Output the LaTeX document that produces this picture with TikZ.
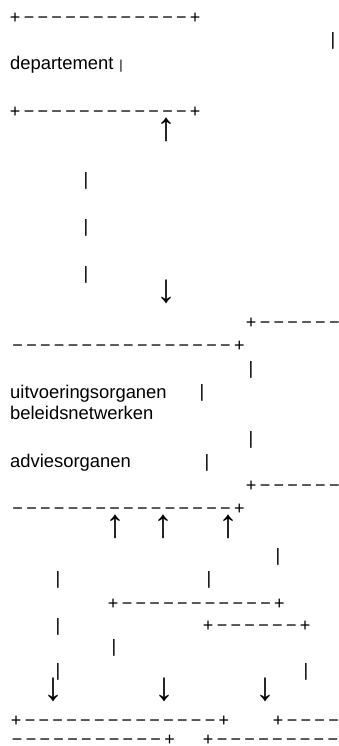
\documentclass[tikz,border=0pt]{standalone}
\usepackage{fontspec}
\setmainfont{Liberation Sans}
\newcommand\cellw{13.85pt}
\newcommand\pluscell{\makebox[\cellw]{+}}
\newcommand\minuscell{\makebox[\cellw]{−}}
\newcommand\mrun[1]{\foreach \k in {1,...,#1}{\minuscell}}
\begin{document}
\begin{tikzpicture}[x=1pt,y=-1pt,
  row/.style={inner sep=0pt, anchor=base west, font=\fontsize{18}{18}\selectfont},
  glyph/.style={inner sep=0pt, anchor=center, font=\fontsize{18}{18}\selectfont},
  arrowglyph/.style={inner sep=0pt, anchor=center, font=\fontsize{40}{40}\selectfont},
  smallbar/.style={inner sep=0pt, anchor=center, font=\fontsize{13}{13}\selectfont},
  lbl/.style={inner sep=0pt, anchor=base west, font=\fontsize{18.4}{18.4}\selectfont}]
\useasboundingbox (0,0) rectangle (339,746);
% horizontal rows
\node[row] (r1) at (8.075,24) {\pluscell\mrun{12}\pluscell};
\node[row] (r2) at (8.075,118) {\pluscell\mrun{12}\pluscell};
\node[row] (r3) at (244.075,328) {\pluscell\mrun{6}};
\node[row] (r4) at (10.575,351) {\mrun{16}\pluscell};
\node[row] (r5) at (244.075,491) {\pluscell\mrun{6}};
\node[row] (r6) at (10.575,514) {\mrun{16}\pluscell};
\node[row] (r7) at (106.075,609) {\pluscell\mrun{11}\pluscell};
\node[row] (r8) at (201.075,631) {\pluscell\mrun{6}\pluscell};
\node[row] (r9) at (9.075,726) {\pluscell\mrun{14}\pluscell};
\node[row] (r10) at (271.075,726) {\pluscell\mrun{4}};
\node[row] (r11) at (10.075,745.5) {\mrun{11}\pluscell};
\node[row] (r12) at (201.075,745.5) {\pluscell\mrun{9}};
% labels
\node[lbl] (dep) at (10,70) {departement};
\node[lbl] (uit) at (10,398) {uitvoeringsorganen};
\node[lbl] (bel) at (10,419) {beleidsnetwerken};
\node[lbl] (adv) at (10,467) {adviesorganen};
% vertical bars
\node[glyph] (b1) at (333,41) {|};
\node[smallbar] (b2) at (121,66) {|};
\node[glyph] (b3) at (86,181) {|};
\node[glyph] (b4) at (86,228) {|};
\node[glyph] (b5) at (86,275) {|};
\node[glyph] (b6) at (251,370) {|};
\node[glyph] (b7) at (202,393) {|};
\node[glyph] (b8) at (251,440) {|};
\node[glyph] (b9) at (207,463) {|};
\node[glyph] (b10) at (278,557) {|};
\node[glyph] (b11) at (58,580) {|};
\node[glyph] (b12) at (209,580) {|};
\node[glyph] (b13) at (58,627) {|};
\node[glyph] (b14) at (114,648) {|};
\node[glyph] (b15) at (58,672) {|};
\node[glyph] (b16) at (306,672) {|};
% arrows
\node[arrowglyph] (a1) at (166,130) {↑};
\node[arrowglyph] (a2) at (166,292) {↓};
\node[arrowglyph] (a3) at (115,527) {↑};
\node[arrowglyph] (a4) at (163,527) {↑};
\node[arrowglyph] (a5) at (228,527) {↑};
\node[arrowglyph] (a6) at (53,690) {↓};
\node[arrowglyph] (a7) at (164,690) {↓};
\node[arrowglyph] (a8) at (265,690) {↓};
\end{tikzpicture}
\end{document}
